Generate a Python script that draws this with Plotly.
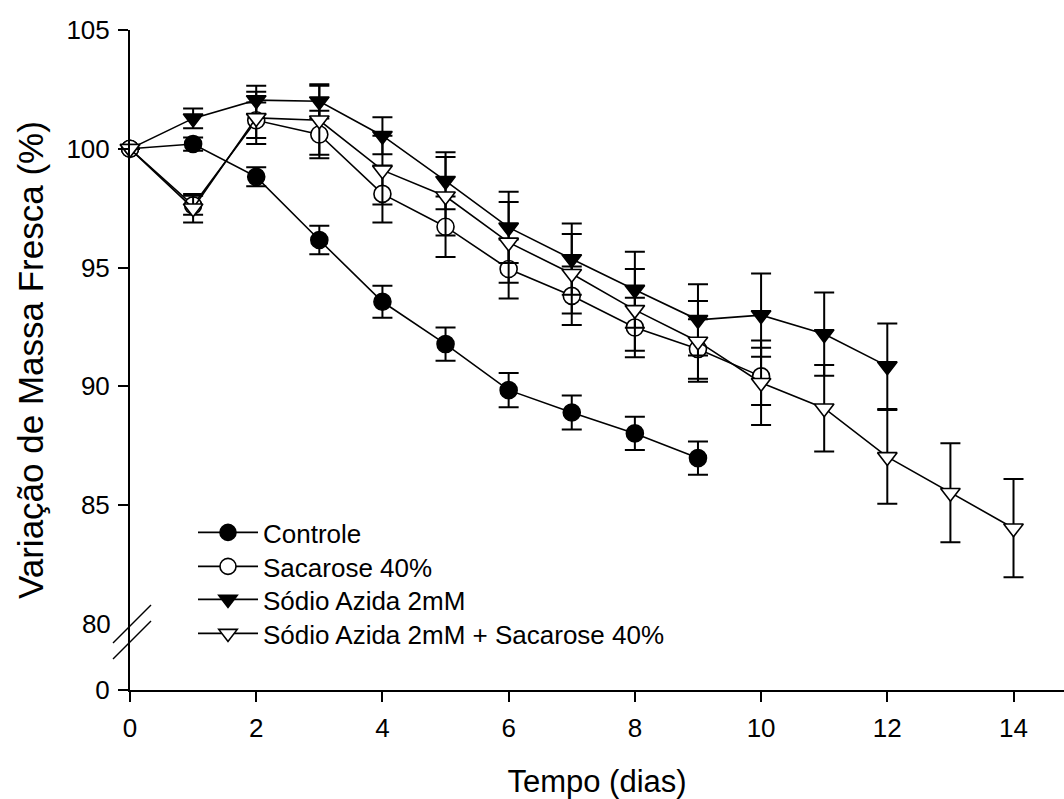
import plotly.graph_objects as go

# ---------------- data ----------------
dias_controle = [0, 1, 2, 3, 4, 5, 6, 7, 8, 9]
controle = [100.0, 100.2, 98.82, 96.16, 93.56, 91.78, 89.84, 88.90, 88.02, 86.98]
controle_err = [None, 0.28, 0.40, 0.60, 0.67, 0.70, 0.72, 0.72, 0.70, 0.70]

dias_sacarose = [0, 1, 2, 3, 4, 5, 6, 7, 8, 9, 10]
sacarose = [100.0, 97.62, 101.2, 100.6, 98.1, 96.72, 94.94, 93.81, 92.48, 91.57, 90.42]
sacarose_err = [None, 0.40, 0.75, 1.0, 1.2, 1.27, 1.24, 1.23, 1.25, 1.25, 1.2]

dias_azida = [0, 1, 2, 3, 4, 5, 6, 7, 8, 9, 10, 11, 12]
azida = [100.0, 101.28, 102.05, 102.0, 100.55, 98.65, 96.69, 95.36, 94.07, 92.8, 93.0, 92.2, 90.85]
azida_err = [None, 0.42, 0.60, 0.72, 0.78, 1.2, 1.5, 1.5, 1.6, 1.5, 1.75, 1.75, 1.8]

dias_azida_sac = [0, 1, 2, 3, 4, 5, 6, 7, 8, 9, 10, 11, 12, 13, 14]
azida_sac = [100.0, 97.5, 101.3, 101.2, 99.1, 98.0, 96.06, 94.74, 93.22, 91.89, 90.15, 89.08, 87.03, 85.52, 84.03]
azida_sac_err = [None, 0.6, 1.1, 1.45, 1.45, 1.65, 1.7, 1.67, 1.72, 1.7, 1.78, 1.82, 1.97, 2.08, 2.07]

nomes = ["Controle", "Sacarose 40%", "Sódio Azida 2mM", "Sódio Azida 2mM + Sacarose 40%"]

x_ticks = [0, 2, 4, 6, 8, 10, 12, 14]
y_ticks_upper = [85, 90, 95, 100, 105]
y_tick_break = [80]
y_ticks_lower = [0]

titulo_x = "Tempo (dias)"
titulo_y = "Variação de Massa Fresca (%)"

FONT = "Liberation Sans, Arial, sans-serif"
TICK_FS = 26

# ---------------- geometry ----------------
W, H = 1064, 799
ML, MR, MT, MB = 130, 0, 30, 109
plot_w = W - ML - MR
plot_h = H - MT - MB
split = 58 / plot_h          # fraction of plot height used by the lower (0) segment
upper_range = [79.66, 105]
lower_range = [0, 1]
x_range = [0, 14.8]

def px(xp):
    return (xp - ML) / plot_w

def py(yp):
    return (H - MB - yp) / plot_h

series = [
    (dias_controle, controle, controle_err, "circle", "black"),
    (dias_sacarose, sacarose, sacarose_err, "circle", "white"),
    (dias_azida, azida, azida_err, "triangle-down", "black"),
    (dias_azida_sac, azida_sac, azida_sac_err, "triangle-down", "white"),
]
legend_ids = ["legend", "legend2", "legend3", "legend4"]
legend_tops = [509, 543, 576, 610]

fig = go.Figure()
for (xs, ys, es, sym, fill), nome, lid in zip(series, nomes, legend_ids):
    fig.add_trace(go.Scatter(
        x=xs, y=ys, name=nome, mode="lines+markers", legend=lid,
        line=dict(color="black", width=1.6),
        marker=dict(symbol=sym, size=17, color=fill,
                    line=dict(color="black", width=1.6)),
        error_y=dict(type="data", array=es, visible=True, color="black",
                     thickness=2, width=10),
        cliponaxis=False, xaxis="x", yaxis="y",
    ))

# empty traces so that the lower segment and the "80" overlay axis are drawn
for ya in ("y2", "y3"):
    fig.add_trace(go.Scatter(x=[], y=[], xaxis="x", yaxis=ya, showlegend=False,
                             hoverinfo="skip", mode="markers"))

axis_common = dict(showline=True, linecolor="black", linewidth=2,
                   ticks="outside", ticklen=10, tickwidth=2, tickcolor="black",
                   showgrid=False, zeroline=False,
                   tickfont=dict(family=FONT, size=TICK_FS, color="black"))

legends = {}
for lid, top in zip(legend_ids, legend_tops):
    legends[lid] = dict(x=px(193), y=py(top), xanchor="left", yanchor="top",
                        itemwidth=60, bgcolor="rgba(0,0,0,0)", borderwidth=0,
                        font=dict(family=FONT, size=26, color="black"),
                        tracegroupgap=0)

fig.update_layout(
    width=W, height=H,
    margin=dict(l=ML, r=MR, t=MT, b=MB),
    paper_bgcolor="white", plot_bgcolor="white",
    font=dict(family=FONT, color="black"),
    showlegend=True,
    xaxis=dict(domain=[0, 1], range=x_range, anchor="y2",
               tickvals=x_ticks, ticklabelstandoff=4,
               title=dict(text=titulo_x, font=dict(family=FONT, size=31), standoff=30),
               **axis_common),
    yaxis=dict(domain=[split, 1], range=upper_range, anchor="x",
               tickvals=y_ticks_upper, ticklabelstandoff=3,
               **axis_common),
    yaxis3=dict(overlaying="y", range=upper_range, anchor="x", side="left",
                tickvals=y_tick_break, showline=False, ticks="outside", ticklen=10,
                tickcolor="rgba(0,0,0,0)", showgrid=False, zeroline=False,
                ticklabelstandoff=3,
                tickfont=dict(family=FONT, size=TICK_FS, color="black")),
    yaxis2=dict(domain=[0, split], range=lower_range, anchor="x",
                tickvals=y_ticks_lower, ticklabelstandoff=3, **axis_common),
    **legends,
)

# y-axis title centred on the whole (broken) axis
fig.add_annotation(text=titulo_y, xref="paper", yref="paper",
                   x=px(30), y=py(360), xanchor="center", yanchor="middle",
                   textangle=-90, showarrow=False,
                   font=dict(family=FONT, size=35, color="black"))

# axis-break marks
for (x0, y0, x1, y1) in [(113, 643, 151, 605), (113, 659, 151, 621)]:
    fig.add_shape(type="line", xref="paper", yref="paper",
                  x0=px(x0), y0=py(y0), x1=px(x1), y1=py(y1),
                  line=dict(color="black", width=1.5))

fig.write_html("out.html")
